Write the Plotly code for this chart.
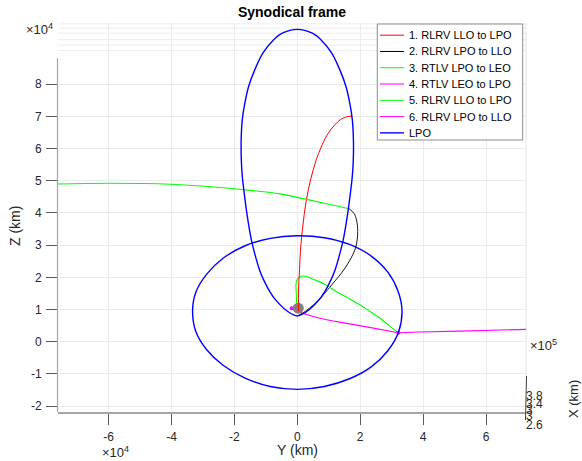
import plotly.graph_objects as go

# ---------------- data (values in units of 1e4 km) ----------------
SCALE = 1e4

LPO_TALL_Y = [1.785, 1.75, 1.67, 1.55, 1.35, 1.09, 0.78, 0.48, 0.00, -0.48, -0.78, -1.09, -1.35, -1.55,
              -1.67, -1.75, -1.785, -1.78, -1.75, -1.70, -1.59, -1.46, -1.33, -1.20, -1.07, -0.87, -0.69,
              -0.29, 0.00, 0.29, 0.69, 0.87, 1.07, 1.20, 1.33, 1.46, 1.59, 1.70, 1.75, 1.78, 1.785]
LPO_TALL_Z = [6.25, 6.89, 7.40, 7.92, 8.45, 8.97, 9.35, 9.58, 9.70, 9.58, 9.35, 8.97, 8.45, 7.92,
              7.40, 6.89, 6.25, 5.64, 5.15, 4.71, 3.90, 3.16, 2.65, 2.23, 1.92, 1.55, 1.30,
              0.93, 0.80, 0.93, 1.30, 1.55, 1.92, 2.23, 2.65, 3.16, 3.90, 4.71, 5.15, 5.64, 6.25]

LPO_WIDE_Y = [0.00, 0.86, 1.66, 2.35, 2.88, 3.21, 3.33, 3.22, 2.88, 2.35, 1.66, 0.86, 0.00, -0.86,
              -1.66, -2.35, -2.88, -3.22, -3.33, -3.22, -2.88, -2.35, -1.66, -0.86, 0.00]
LPO_WIDE_Z = [3.29, 3.23, 3.02, 2.66, 2.16, 1.55, 0.95, 0.30, -0.28, -0.78, -1.15, -1.39, -1.48, -1.39,
              -1.13, -0.74, -0.25, 0.30, 0.95, 1.55, 2.10, 2.60, 2.98, 3.21, 3.29]

T1_Y = [0.04, 0.04, 0.07, 0.11, 0.22, 0.30, 0.42, 0.60, 0.72, 0.88, 1.06, 1.36, 1.56, 1.75]
T1_Z = [0.95, 1.61, 2.23, 2.95, 3.95, 4.46, 5.02, 5.64, 5.95, 6.30, 6.58, 6.89, 6.98, 7.01]

T2_Y = [1.65, 1.82, 1.91, 1.91, 1.83, 1.52, 1.09, 0.62, 0.19, 0.02]
T2_Z = [4.13, 3.96, 3.62, 3.22, 2.85, 2.29, 1.76, 1.24, 0.90, 0.81]

T3_Y = [-7.86, -6.01, -4.03, -2.46, -1.50, -0.55, 0.30, 1.04, 1.65]
T3_Z = [4.89, 4.92, 4.89, 4.79, 4.70, 4.59, 4.42, 4.26, 4.13]

T4_Y = [7.60, 5.17, 3.90, 3.21]
T4_Z = [0.39, 0.33, 0.30, 0.28]

T5_Y = [-0.02, -0.03, -0.04, 0.01, 0.09, 0.19, 0.34, 0.51, 0.88, 1.25, 1.61, 2.00, 2.31, 2.63, 2.92, 3.19]
T5_Z = [0.98, 1.45, 1.81, 1.95, 2.02, 2.04, 2.01, 1.94, 1.78, 1.55, 1.36, 1.14, 0.94, 0.73, 0.50, 0.30]

T6_Y = [3.21, 2.38, 1.57, 0.72, 0.19, -0.04, -0.18]
T6_Z = [0.28, 0.43, 0.57, 0.73, 0.88, 0.95, 1.04]

MAGENTA_PTS_Y = [-0.18, 3.21]
MAGENTA_PTS_Z = [1.04, 0.28]

MOON_Y = [0.03]
MOON_Z = [1.04]

LEGEND_NAMES = ["1. RLRV LLO to LPO", "2. RLRV LPO to LLO", "3. RTLV LPO to LEO",
                "4. RTLV LEO to LPO", "5. RLRV LLO to LPO", "6. RLRV LPO to LLO", "LPO"]
LEGEND_COLORS = ["#ff0000", "#000000", "#00ff00", "#ff00ff", "#00ff00", "#ff00ff", "#0000ff"]

Y_TICKS = [-6, -4, -2, 0, 2, 4, 6]
Z_TICKS = [-2, -1, 0, 1, 2, 3, 4, 5, 6, 7, 8]
X_TICK_LABELS = ["3.8", "3.4", "3", "3", "2.6"]
TOP_PLANE_GRID_Z = [9.87, 9.74, 9.58, 9.38, 9.21, 9.04]

# ---------------- layout geometry ----------------
W, H = 582, 461
ML, MR, MT, MB = 58, 56, 23, 49
PW, PH = W - ML - MR, H - MT - MB
Y_RANGE = [-7.609, 7.272]
Z_RANGE = [-2.183, 9.898]
FONT = "Liberation Sans, Arial, Helvetica, sans-serif"
TXT = "#262626"


def fx(px):
    return (px - ML) / PW


def fy(py):
    return (H - MB - py) / PH


def sc(vals):
    return [v * SCALE for v in vals]


fig = go.Figure()


def line_trace(yv, zv, color, width, name):
    fig.add_trace(go.Scatter(x=sc(yv), y=sc(zv), mode="lines", name=name, showlegend=False,
                             line=dict(color=color, width=width, shape="spline", smoothing=1.0),
                             hoverinfo="skip"))


line_trace(T6_Y, T6_Z, LEGEND_COLORS[5], 1.1, LEGEND_NAMES[5])
line_trace(T4_Y, T4_Z, LEGEND_COLORS[3], 1.1, LEGEND_NAMES[3])
line_trace(T2_Y, T2_Z, LEGEND_COLORS[1], 0.9, LEGEND_NAMES[1])
line_trace(T5_Y, T5_Z, LEGEND_COLORS[4], 1.1, LEGEND_NAMES[4])
fig.add_trace(go.Scatter(x=sc(MAGENTA_PTS_Y), y=sc(MAGENTA_PTS_Z), mode="markers", showlegend=False,
                         marker=dict(color="#ff00ff", size=4), hoverinfo="skip"))
fig.add_trace(go.Scatter(x=sc(MOON_Y), y=sc(MOON_Z), mode="markers", showlegend=False,
                         marker=dict(color="#808080", size=11, line=dict(width=0)), hoverinfo="skip"))
line_trace(T1_Y, T1_Z, LEGEND_COLORS[0], 1.0, LEGEND_NAMES[0])
line_trace(T3_Y, T3_Z, LEGEND_COLORS[2], 1.1, LEGEND_NAMES[2])
line_trace(LPO_TALL_Y, LPO_TALL_Z, LEGEND_COLORS[6], 1.4, LEGEND_NAMES[6])
line_trace(LPO_WIDE_Y, LPO_WIDE_Z, LEGEND_COLORS[6], 1.4, LEGEND_NAMES[6])

shapes = []
# faint grid lines of the 3-D box near the top
for z in TOP_PLANE_GRID_Z:
    shapes.append(dict(type="line", xref="paper", yref="y", x0=0, x1=1, y0=z * SCALE, y1=z * SCALE,
                       line=dict(color="#ececec", width=1), layer="below"))
# right edge of the box (light) and X axis stub (dark)
shapes.append(dict(type="line", xref="paper", yref="paper", x0=1, x1=1, y0=fy(377), y1=1,
                   line=dict(color="#e3e3e3", width=1), layer="below"))
shapes.append(dict(type="line", xref="paper", yref="paper", x0=fx(526.5), x1=fx(525.5), y0=fy(376), y1=fy(420),
                   line=dict(color="#3a3a3a", width=1)))
# left axis line
shapes.append(dict(type="line", xref="paper", yref="paper", x0=fx(57.5), x1=fx(57.5), y0=0, y1=fy(58),
                   line=dict(color="#a6a6a6", width=1.2)))

# custom legend
shapes.append(dict(type="rect", xref="paper", yref="paper", x0=fx(377.3), x1=fx(522.7), y0=fy(140), y1=fy(24),
                   fillcolor="white", line=dict(color="#6e6e6e", width=0.8)))
annotations = []
for i, (nm, col) in enumerate(zip(LEGEND_NAMES, LEGEND_COLORS)):
    py = 35.2 + i * 16.28
    shapes.append(dict(type="line", xref="paper", yref="paper", x0=fx(380), x1=fx(404), y0=fy(py), y1=fy(py),
                       line=dict(color=col, width=1.4 if i == 6 else 1)))
    annotations.append(dict(text=nm, xref="paper", yref="paper", x=fx(406.5), y=fy(py), xanchor="left",
                            yanchor="middle", showarrow=False, font=dict(size=11, color="#000000", family=FONT)))

# axis labels and exponents
annotations += [
    dict(text="Y (km)", xref="paper", yref="paper", x=fx(297), y=fy(450), xanchor="center", yanchor="middle",
         showarrow=False, font=dict(size=14, color=TXT, family=FONT)),
    dict(text="Z (km)", xref="paper", yref="paper", x=fx(15), y=fy(226), xanchor="center", yanchor="middle",
         textangle=-90, showarrow=False, font=dict(size=14, color=TXT, family=FONT)),
    dict(text="×10<sup>4</sup>", xref="paper", yref="paper", x=fx(24), y=fy(29), xanchor="left", yanchor="middle",
         showarrow=False, font=dict(size=13, color=TXT, family=FONT)),
    dict(text="×10<sup>4</sup>", xref="paper", yref="paper", x=fx(100), y=fy(452), xanchor="left", yanchor="middle",
         showarrow=False, font=dict(size=13, color=TXT, family=FONT)),
    dict(text="×10<sup>5</sup>", xref="paper", yref="paper", x=fx(528), y=fy(345), xanchor="left", yanchor="middle",
         showarrow=False, font=dict(size=13, color=TXT, family=FONT)),
    dict(text="X (km)", xref="paper", yref="paper", x=fx(573), y=fy(399), xanchor="center", yanchor="middle",
         textangle=-90, showarrow=False, font=dict(size=13, color=TXT, family=FONT)),
]
for lbl, py in zip(X_TICK_LABELS, [396, 404, 410, 416, 425]):
    annotations.append(dict(text=lbl, xref="paper", yref="paper", x=fx(524), y=fy(py), xanchor="left",
                            yanchor="middle", showarrow=False, font=dict(size=12, color=TXT, family=FONT)))

fig.update_layout(
    width=W, height=H, margin=dict(l=ML, r=MR, t=MT, b=MB, pad=0),
    paper_bgcolor="white", plot_bgcolor="white",
    font=dict(family=FONT, size=12, color=TXT),
    title=dict(text="<b>Synodical frame</b>", x=0.5, xref="paper", xanchor="center",
               y=1 - 12 / H, yref="container", yanchor="middle", font=dict(size=14, color="#000000", family=FONT)),
    xaxis=dict(range=[v * SCALE for v in Y_RANGE], tickvals=sc(Y_TICKS), ticktext=[str(t) for t in Y_TICKS],
               showgrid=True, gridcolor="#ebebeb", gridwidth=1, zeroline=False,
               showline=True, linecolor="#a6a6a6", linewidth=1.5,
               ticks="outside", ticklen=11, tickcolor="#5a5a5a", tickwidth=1, ticklabelstandoff=2,
               tickfont=dict(size=12, color=TXT, family=FONT)),
    yaxis=dict(range=[v * SCALE for v in Z_RANGE], tickvals=sc(Z_TICKS), ticktext=[str(t) for t in Z_TICKS],
               showgrid=True, gridcolor="#ebebeb", gridwidth=1, zeroline=False, showline=False,
               ticks="outside", ticklen=11, tickcolor="#5a5a5a", tickwidth=1, ticklabelstandoff=2,
               tickfont=dict(size=12, color=TXT, family=FONT)),
    shapes=shapes, annotations=annotations, showlegend=False,
)

fig.write_html("out.html")
